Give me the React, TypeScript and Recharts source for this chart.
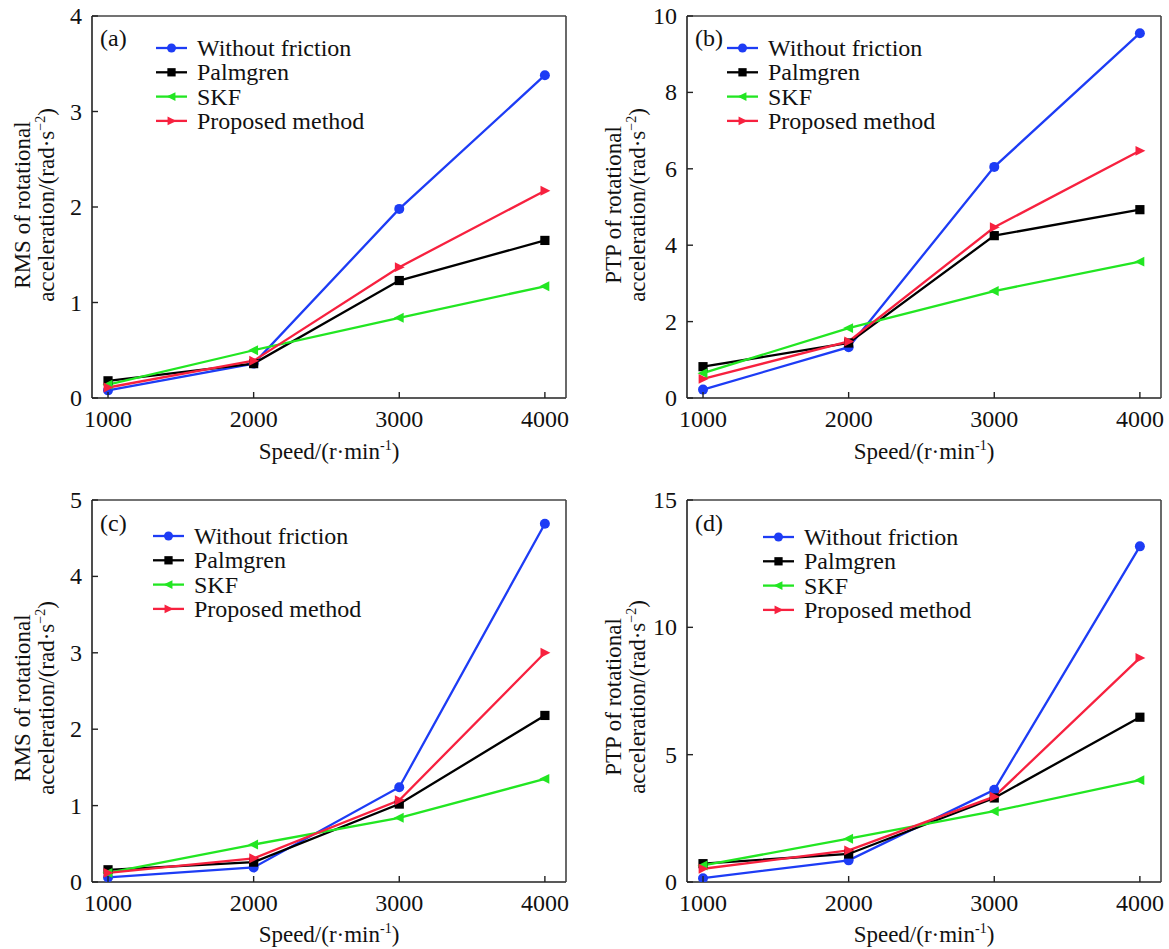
import React from 'react';
import { LineChart, Line, XAxis, YAxis } from 'recharts';

const FONT = "'Liberation Serif', 'Times New Roman', Times, serif";

const speeds = [1000, 2000, 3000, 4000];
const xTicks = [1000, 2000, 3000, 4000];

const seriesNames = ['Without friction', 'Palmgren', 'SKF', 'Proposed method'];
const seriesKeys = ['without', 'palmgren', 'skf', 'proposed'];
const seriesColors = ['#1d3cf5', '#000000', '#22e622', '#f7213f'];
const seriesMarkers = ['circle', 'square', 'left', 'right'];

// (a) RMS, case 1
const aWithout = [0.08, 0.36, 1.98, 3.38];
const aPalmgren = [0.18, 0.36, 1.23, 1.65];
const aSkf = [0.14, 0.5, 0.84, 1.17];
const aProposed = [0.11, 0.39, 1.37, 2.17];
const aTicks = [0, 1, 2, 3, 4];

// (b) PTP, case 1
const bWithout = [0.22, 1.33, 6.05, 9.55];
const bPalmgren = [0.82, 1.44, 4.25, 4.93];
const bSkf = [0.65, 1.83, 2.8, 3.57];
const bProposed = [0.5, 1.48, 4.47, 6.47];
const bTicks = [0, 2, 4, 6, 8, 10];

// (c) RMS, case 2
const cWithout = [0.06, 0.19, 1.24, 4.69];
const cPalmgren = [0.16, 0.26, 1.02, 2.18];
const cSkf = [0.12, 0.49, 0.84, 1.35];
const cProposed = [0.12, 0.31, 1.07, 3.0];
const cTicks = [0, 1, 2, 3, 4, 5];

// (d) PTP, case 2
const dWithout = [0.15, 0.85, 3.62, 13.18];
const dPalmgren = [0.72, 1.1, 3.3, 6.47];
const dSkf = [0.65, 1.7, 2.78, 4.0];
const dProposed = [0.52, 1.24, 3.35, 8.8];
const dTicks = [0, 5, 10, 15];

function buildRows(w: number[], p: number[], s: number[], r: number[]) {
  return speeds.map((speed, i) => ({ speed, without: w[i], palmgren: p[i], skf: s[i], proposed: r[i] }));
}

function Marker({ cx, cy, kind, color, size = 1 }: any) {
  if (cx == null || cy == null || isNaN(cx) || isNaN(cy)) return null;
  if (kind === 'circle') return <circle cx={cx} cy={cy} r={5 * size} fill={color} />;
  if (kind === 'square') {
    const h = 4.6 * size;
    return <rect x={cx - h} y={cy - h} width={2 * h} height={2 * h} fill={color} />;
  }
  if (kind === 'left') {
    const a = 5.5 * size;
    return <polygon points={`${cx - a},${cy} ${cx + a * 0.8},${cy - a * 0.9} ${cx + a * 0.8},${cy + a * 0.9}`} fill={color} />;
  }
  const a = 5.5 * size;
  return <polygon points={`${cx + a},${cy} ${cx - a * 0.8},${cy - a * 0.9} ${cx - a * 0.8},${cy + a * 0.9}`} fill={color} />;
}

const XTick = (props: any) => {
  const { x, y, payload } = props;
  return (
    <g>
      <line x1={x} y1={y} x2={x} y2={y - 6} stroke="#222" strokeWidth={1.4} />
      <text x={x} y={y + 29} textAnchor="middle" fontFamily={FONT} fontSize={24} fill="#111">
        {payload.value}
      </text>
    </g>
  );
};

const YTick = (props: any) => {
  const { x, y, payload } = props;
  return (
    <g>
      <line x1={x} y1={y} x2={x + 6} y2={y} stroke="#222" strokeWidth={1.4} />
      <text x={x - 10} y={y + 8} textAnchor="end" fontFamily={FONT} fontSize={24} fill="#111">
        {payload.value}
      </text>
    </g>
  );
};

type Panel = {
  id: string;
  letter: string;
  metric: string;
  rows: any[];
  yMax: number;
  yTicks: number[];
  left: number;
  top: number;
  width: number;
  height: number;
  plot: { top: number; right: number; bottom: number; left: number };
  legendX: number;
  legendY: number;
  letterX: number;
  letterY: number;
  yTitleX1: number;
  yTitleX2: number;
  yTitleCY: number;
  xTitleY: number;
};

// plot = distance of the plot frame from each edge of the panel box
const panels: Panel[] = [
  {
    id: 'a', letter: '(a)', metric: 'RMS', rows: buildRows(aWithout, aPalmgren, aSkf, aProposed),
    yMax: 4, yTicks: aTicks, left: 0, top: 0, width: 584, height: 470,
    plot: { top: 16, right: 18, bottom: 72, left: 92 },
    legendX: 156, legendY: 48, letterX: 100, letterY: 46,
    yTitleX1: 30, yTitleX2: 54, yTitleCY: 205, xTitleY: 459,
  },
  {
    id: 'b', letter: '(b)', metric: 'PTP', rows: buildRows(bWithout, bPalmgren, bSkf, bProposed),
    yMax: 10, yTicks: bTicks, left: 584, top: 0, width: 585, height: 470,
    plot: { top: 16, right: 8, bottom: 72, left: 103 },
    legendX: 727 - 584, legendY: 48, letterX: 695 - 584, letterY: 46,
    yTitleX1: 621 - 584, yTitleX2: 645 - 584, yTitleCY: 205, xTitleY: 459,
  },
  {
    id: 'c', letter: '(c)', metric: 'RMS', rows: buildRows(cWithout, cPalmgren, cSkf, cProposed),
    yMax: 5, yTicks: cTicks, left: 0, top: 470, width: 584, height: 479,
    plot: { top: 30, right: 18, bottom: 67, left: 92 },
    legendX: 153, legendY: 536 - 470, letterX: 100, letterY: 531 - 470,
    yTitleX1: 30, yTitleX2: 54, yTitleCY: 698 - 470, xTitleY: 942 - 470,
  },
  {
    id: 'd', letter: '(d)', metric: 'PTP', rows: buildRows(dWithout, dPalmgren, dSkf, dProposed),
    yMax: 15, yTicks: dTicks, left: 584, top: 470, width: 585, height: 479,
    plot: { top: 30, right: 8, bottom: 67, left: 103 },
    legendX: 763 - 584, legendY: 537 - 470, letterX: 695 - 584, letterY: 531 - 470,
    yTitleX1: 621 - 584, yTitleX2: 645 - 584, yTitleCY: 697 - 470, xTitleY: 942 - 470,
  },
];

function Overlay({ p }: { p: Panel }) {
  const plotCX = p.plot.left + (p.width - p.plot.left - p.plot.right) / 2;
  const rowGap = 24.3;
  return (
    <svg
      width={p.width}
      height={p.height}
      style={{ position: 'absolute', left: 0, top: 0, pointerEvents: 'none', overflow: 'visible' }}
    >
      <g fontFamily={FONT} fill="#111">
        <text x={p.letterX} y={p.letterY} fontSize={24}>{p.letter}</text>
        {seriesNames.map((name, i) => {
          const y = p.legendY + i * rowGap;
          return (
            <g key={name}>
              <line x1={p.legendX} y1={y} x2={p.legendX + 31} y2={y} stroke={seriesColors[i]} strokeWidth={2.3} />
              <Marker cx={p.legendX + 15.5} cy={y} kind={seriesMarkers[i]} color={seriesColors[i]} size={0.9} />
              <text x={p.legendX + 41} y={y + 8} fontSize={24}>{name}</text>
            </g>
          );
        })}
        <text x={plotCX} y={p.xTitleY} fontSize={23} textAnchor="middle">
          Speed/(r·min
          <tspan fontSize={14} dy={-9}>-1</tspan>
          <tspan dy={9}>)</tspan>
        </text>
        <text
          x={p.yTitleX1}
          y={p.yTitleCY}
          fontSize={23}
          textAnchor="middle"
          transform={`rotate(-90 ${p.yTitleX1} ${p.yTitleCY})`}
        >
          {p.metric} of rotational
        </text>
        <text
          x={p.yTitleX2}
          y={p.yTitleCY}
          fontSize={23}
          textAnchor="middle"
          transform={`rotate(-90 ${p.yTitleX2} ${p.yTitleCY})`}
        >
          acceleration/(rad·s
          <tspan fontSize={14} dy={-9}>−2</tspan>
          <tspan dy={9}>)</tspan>
        </text>
      </g>
    </svg>
  );
}

function PanelChart({ p }: { p: Panel }) {
  const margin = {
    top: p.plot.top - 1,
    right: p.plot.right - 1,
    bottom: p.plot.bottom - 1,
    left: p.plot.left - 1,
  };
  return (
    <div style={{ position: 'absolute', left: p.left, top: p.top, width: p.width, height: p.height }}>
      <LineChart width={p.width} height={p.height} data={p.rows} margin={margin}>
        <XAxis
          xAxisId={0}
          dataKey="speed"
          type="number"
          domain={[890, 4145]}
          ticks={xTicks}
          interval={0}
          height={1}
          tickSize={0}
          tickMargin={0}
          tickLine={false}
          axisLine={{ stroke: '#222', strokeWidth: 1.6 }}
          tick={<XTick />}
          allowDataOverflow
        />
        <XAxis
          xAxisId="top"
          orientation="top"
          type="number"
          domain={[890, 4145]}
          height={1}
          tick={false}
          tickLine={false}
          axisLine={{ stroke: '#444', strokeWidth: 1.6 }}
        />
        <YAxis
          yAxisId={0}
          type="number"
          domain={[0, p.yMax]}
          ticks={p.yTicks}
          interval={0}
          width={1}
          tickSize={0}
          tickMargin={0}
          tickLine={false}
          axisLine={{ stroke: '#222', strokeWidth: 1.6 }}
          tick={<YTick />}
          allowDataOverflow
        />
        <YAxis
          yAxisId="right"
          orientation="right"
          type="number"
          domain={[0, p.yMax]}
          width={1}
          tick={false}
          tickLine={false}
          axisLine={{ stroke: '#444', strokeWidth: 1.6 }}
        />
        {seriesKeys.map((k, i) => (
          <Line
            key={k}
            xAxisId={0}
            yAxisId={0}
            type="linear"
            dataKey={k}
            name={seriesNames[i]}
            stroke={seriesColors[i]}
            strokeWidth={2.3}
            isAnimationActive={false}
            activeDot={false}
            dot={(d: any) => (
              <Marker key={`${k}-${d.index}`} cx={d.cx} cy={d.cy} kind={seriesMarkers[i]} color={seriesColors[i]} />
            )}
          />
        ))}
      </LineChart>
      <Overlay p={p} />
    </div>
  );
}

export default function App() {
  return (
    <div style={{ position: 'absolute', left: 0, top: 0, width: 1169, height: 949, background: '#fff', overflow: 'hidden' }}>
      {panels.map((p) => (
        <PanelChart key={p.id} p={p} />
      ))}
    </div>
  );
}
